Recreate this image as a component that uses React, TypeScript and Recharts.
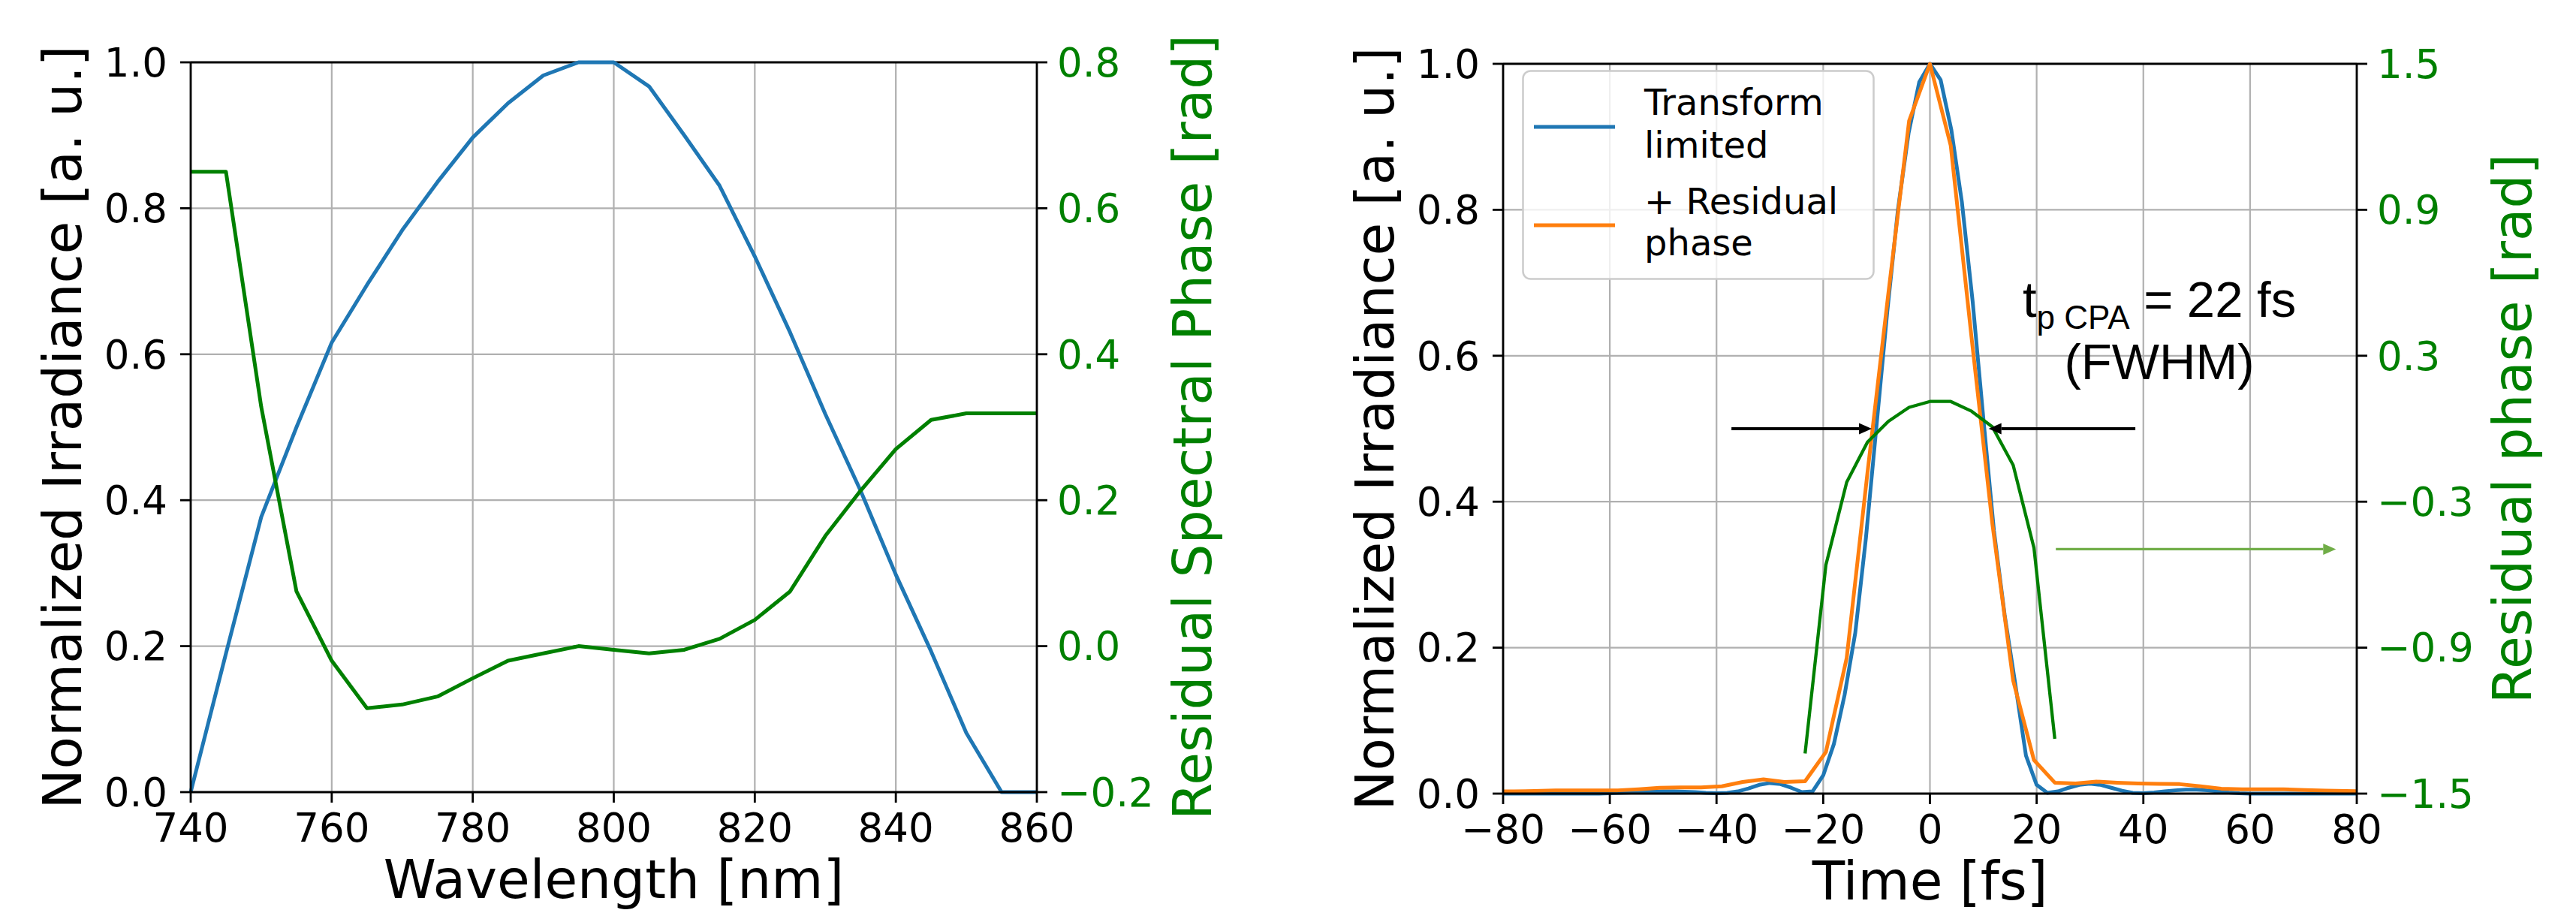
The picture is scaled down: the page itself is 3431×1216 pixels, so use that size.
import React from 'react';
import { LineChart, Line, XAxis, YAxis, CartesianGrid, ReferenceLine, ReferenceDot, Legend } from 'recharts';

// left panel: spectrum and residual spectral phase
const wavelength = [740, 745, 750, 755, 760, 765, 770, 775, 780, 785, 790, 795, 800, 805, 810, 815, 820, 825, 830, 835, 840, 845, 850, 855, 860];
const spectrum = [0, 0.19, 0.377, 0.5, 0.616, 0.695, 0.77, 0.836, 0.897, 0.944, 0.982, 1.0, 1.0, 0.967, 0.9, 0.831, 0.734, 0.63, 0.518, 0.413, 0.298, 0.193, 0.081, 0, 0];
const spectralPhase = [0.65, 0.65, 0.328, 0.075, -0.02, -0.085, -0.08, -0.069, -0.044, -0.02, -0.01, 0.0, -0.005, -0.01, -0.005, 0.01, 0.036, 0.075, 0.151, 0.213, 0.27, 0.31, 0.319, 0.319, 0.319];

// right panel: temporal profiles
const timeFine = [
  -80, -78, -76, -74, -72, -70, -68, -66, -64, -62, -60, -58, -56, -54, -52, -50, -48, -46, -44, -42,
  -40, -38, -36, -34, -32, -30, -28, -26, -24, -22, -20, -18, -16, -14, -12, -10, -8, -6, -4, -2,
  0, 2, 4, 6, 8, 10, 12, 14, 16, 18, 20, 22, 24, 26, 28, 30, 32, 34, 36, 38,
  40, 42, 44, 46, 48, 50, 52, 54, 56, 58, 60, 62, 64, 66, 68, 70, 72, 74, 76, 78, 80,
];
const pulseTL = [
  0, 0, 0, 0, 0, 0, 0, 0, 0, 0, 0.0005, 0.001, 0.0015, 0.002, 0.0025, 0.003, 0.003, 0.0025, 0.002, 0.001,
  0.0005, 0.001, 0.003, 0.007, 0.012, 0.0145, 0.013, 0.008, 0.002, 0.003, 0.025, 0.068, 0.135, 0.22, 0.35, 0.505, 0.66, 0.8, 0.905, 0.975,
  1.0, 0.978, 0.91, 0.81, 0.675, 0.515, 0.36, 0.245, 0.15, 0.052, 0.012, 0.001, 0.003, 0.008, 0.012, 0.0135, 0.012, 0.008, 0.004, 0.001,
  0.0005, 0.0015, 0.003, 0.0045, 0.0055, 0.0055, 0.0045, 0.003, 0.0015, 0.0005, 0, 0, 0, 0, 0, 0, 0, 0, 0, 0, 0,
];
const timeCoarse = [
  -81.9, -78, -74.1, -70.2, -66.3, -62.4, -58.5, -54.6, -50.7, -46.8, -42.9, -39, -35.1, -31.2, -27.3, -23.4, -19.5, -15.6, -11.7, -7.8, -3.9,
  0, 3.9, 7.8, 11.7, 15.6, 19.5, 23.4, 27.3, 31.2, 35.1, 39, 42.9, 46.8, 50.7, 54.6, 58.5, 62.4, 66.3, 70.2, 74.1, 78, 81.9,
];
const pulseCPA = [
  0.003, 0.003, 0.0035, 0.0045, 0.0045, 0.0045, 0.0045, 0.006, 0.008, 0.0085, 0.0085, 0.01, 0.016, 0.0195, 0.016, 0.017, 0.057, 0.186, 0.44, 0.685, 0.922,
  1.0, 0.888, 0.625, 0.37, 0.155, 0.046, 0.015, 0.014, 0.0165, 0.015, 0.014, 0.0135, 0.013, 0.01, 0.0068, 0.006, 0.006, 0.0058, 0.005, 0.0042, 0.0035, 0.003,
];
const timePhase = [-23.4, -19.5, -15.6, -11.7, -7.8, -3.9, 0, 3.9, 7.8, 11.7, 15.6, 19.5, 23.4];
const residualPhase = [-1.335, -0.56, -0.22, -0.055, 0.03, 0.088, 0.112, 0.112, 0.072, 0.008, -0.15, -0.49, -1.275];

const irrTicks = [0, 0.2, 0.4, 0.6, 0.8, 1.0];
const wlTicks = [740, 760, 780, 800, 820, 840, 860];
const specPhaseTicks = [-0.2, 0, 0.2, 0.4, 0.6, 0.8];
const timeTicks = [-80, -60, -40, -20, 0, 20, 40, 60, 80];
const resPhaseTicks = [-1.5, -0.9, -0.3, 0.3, 0.9, 1.5];

const spectrumData = wavelength.map((x, i) => ({ x, irr: spectrum[i], phase: spectralPhase[i] }));
const tlData = timeFine.map((x, i) => ({ x, v: pulseTL[i] }));
const cpaData = timeCoarse.map((x, i) => ({ x, v: pulseCPA[i] }));
const phaseData = timePhase.map((x, i) => ({ x, v: residualPhase[i] }));

const FONT = 'DejaVu Sans';
const BLUE = '#1f77b4';
const ORANGE = '#ff7f0e';
const GREEN = '#008000';
const SPINE = 2.8;
const TICK = 53;
const TITLE = 71;
const LW = 5;

const fmt1 = (v: number) => (v < 0 ? '\u2212' : '') + Math.abs(v).toFixed(1);
const fmt0 = (v: number) => (v < 0 ? '\u2212' : '') + Math.abs(v);

const axisLine = { stroke: '#000', strokeWidth: SPINE };
const tickFont = (fill: string) => ({ fontSize: TICK, fill, fontFamily: FONT });

// x title sits just above the page's bottom edge
const xTitle = (text: string) => (p: any) => {
  const { x, y, width } = p.viewBox;
  return (
    <text x={x + width / 2} y={y + 141} textAnchor="middle" fontFamily={FONT} fontSize={TITLE} fill="#000">
      {text}
    </text>
  );
};

const yTitle = (text: string, color: string, side: 'left' | 'right') => (p: any) => {
  const { x, y, width, height } = p.viewBox;
  const bx = side === 'left' ? x + width - 146 : x + 232;
  const cy = y + height / 2;
  return (
    <text x={bx} y={cy} transform={`rotate(-90, ${bx}, ${cy})`} textAnchor="middle" fontFamily={FONT} fontSize={TITLE} fill={color}>
      {text}
    </text>
  );
};

const arrow = (color: string, w: number) => (p: any) => {
  const { x1, y1, x2, y2 } = p;
  const dir = x2 > x1 ? 1 : -1;
  const hl = 17;
  const hw = 7.5;
  return (
    <g>
      <line x1={x1} y1={y1} x2={x2 - dir * hl} y2={y2} stroke={color} strokeWidth={w} />
      <polygon points={`${x2},${y2} ${x2 - dir * hl},${y2 - hw} ${x2 - dir * hl},${y2 + hw}`} fill={color} />
    </g>
  );
};

const durationLabel = (p: any) => (
  <text x={p.cx} y={p.cy} textAnchor="middle" fontFamily="Liberation Sans" fontSize={67} fill="#000">
    t<tspan fontSize={44} dy={16}>p CPA</tspan>
    <tspan dy={-16}> = 22 fs</tspan>
  </text>
);

const fwhmLabel = (p: any) => (
  <text x={p.cx} y={p.cy} textAnchor="middle" fontFamily="Liberation Sans" fontSize={67} fill="#000">
    (FWHM)
  </text>
);

const PulseLegend = () => (
  <svg width={470} height={280} style={{ display: 'block' }}>
    <rect x={1.5} y={1.5} width={467} height={277} rx={10} fill="rgba(255,255,255,0.8)" stroke="#cccccc" strokeWidth={2.5} />
    <line x1={16} x2={124} y1={76} y2={76} stroke={BLUE} strokeWidth={LW} />
    <line x1={16} x2={124} y1={207} y2={207} stroke={ORANGE} strokeWidth={LW} />
    <g fontFamily={FONT} fontSize={48} fill="#000">
      <text x={163} y={60}>Transform</text>
      <text x={163} y={117}>limited</text>
      <text x={163} y={192}>+ Residual</text>
      <text x={163} y={247}>phase</text>
    </g>
  </svg>
);

const SpectrumChart = () => (
  <LineChart width={1716} height={1216} data={spectrumData} margin={{ top: 83, left: 0, right: 35, bottom: 65 }}>
    <CartesianGrid yAxisId="left" stroke="#b0b0b0" strokeWidth={2.2} />
    <XAxis
      dataKey="x" type="number" domain={[740, 860]} ticks={wlTicks} interval={0} height={96}
      tick={tickFont('#000')} tickSize={14} tickMargin={14} axisLine={axisLine} tickLine={axisLine}
      label={xTitle('Wavelength [nm]')}
    />
    <YAxis
      yAxisId="left" type="number" domain={[0, 1]} ticks={irrTicks} interval={0} width={254}
      tickFormatter={fmt1} tick={tickFont('#000')} tickSize={14} tickMargin={17} axisLine={axisLine} tickLine={axisLine}
      label={yTitle('Normalized Irradiance [a. u.]', '#000', 'left')}
    />
    <YAxis
      yAxisId="right" orientation="right" type="number" domain={[-0.2, 0.8]} ticks={specPhaseTicks} interval={0} width={300}
      tickFormatter={fmt1} tick={tickFont(GREEN)} tickSize={14} tickMargin={13} axisLine={axisLine} tickLine={axisLine}
      label={yTitle('Residual Spectral Phase [rad]', GREEN, 'right')}
    />
    <ReferenceLine yAxisId="left" y={1} stroke="#000" strokeWidth={SPINE} />
    <Line yAxisId="left" type="linear" dataKey="irr" stroke={BLUE} strokeWidth={LW} strokeLinejoin="round" dot={false} activeDot={false} isAnimationActive={false} />
    <Line yAxisId="right" type="linear" dataKey="phase" stroke={GREEN} strokeWidth={LW} strokeLinejoin="round" dot={false} activeDot={false} isAnimationActive={false} />
  </LineChart>
);

const PulseChart = () => (
  <LineChart width={1715} height={1216} margin={{ top: 85, left: 0, right: 42, bottom: 63 }}>
    <CartesianGrid yAxisId="left" stroke="#b0b0b0" strokeWidth={2.2} />
    <XAxis
      dataKey="x" type="number" domain={[-80, 80]} allowDataOverflow ticks={timeTicks} interval={0} height={96}
      tickFormatter={fmt0} tick={tickFont('#000')} tickSize={14} tickMargin={14} axisLine={axisLine} tickLine={axisLine}
      label={xTitle('Time [fs]')}
    />
    <YAxis
      yAxisId="left" type="number" domain={[0, 1]} ticks={irrTicks} interval={0} width={286}
      tickFormatter={fmt1} tick={tickFont('#000')} tickSize={14} tickMargin={17} axisLine={axisLine} tickLine={axisLine}
      label={yTitle('Normalized Irradiance [a. u.]', '#000', 'left')}
    />
    <YAxis
      yAxisId="right" orientation="right" type="number" domain={[-1.5, 1.5]} ticks={resPhaseTicks} interval={0} width={250}
      tickFormatter={fmt1} tick={tickFont(GREEN)} tickSize={14} tickMargin={13} axisLine={axisLine} tickLine={axisLine}
      label={yTitle('Residual phase [rad]', GREEN, 'right')}
    />
    <ReferenceLine yAxisId="left" y={1} stroke="#000" strokeWidth={SPINE} />
    <Line yAxisId="left" data={tlData} type="linear" dataKey="v" name="Transform limited" stroke={BLUE} strokeWidth={LW} strokeLinejoin="round" dot={false} activeDot={false} isAnimationActive={false} />
    <Line yAxisId="left" data={cpaData} type="linear" dataKey="v" name="+ Residual phase" stroke={ORANGE} strokeWidth={LW} strokeLinejoin="round" dot={false} activeDot={false} isAnimationActive={false} />
    <Line yAxisId="right" data={phaseData} type="linear" dataKey="v" stroke={GREEN} strokeWidth={4.3} strokeLinejoin="round" dot={false} activeDot={false} isAnimationActive={false} legendType="none" />
    <ReferenceLine yAxisId="left" segment={[{ x: -37.2, y: 0.5 }, { x: -10.9, y: 0.5 }]} ifOverflow="visible" shape={arrow('#000', 4)} />
    <ReferenceLine yAxisId="left" segment={[{ x: 38.5, y: 0.5 }, { x: 11.0, y: 0.5 }]} ifOverflow="visible" shape={arrow('#000', 4)} />
    <ReferenceLine yAxisId="left" segment={[{ x: 23.6, y: 0.335 }, { x: 76.1, y: 0.335 }]} ifOverflow="visible" shape={arrow('#70ad47', 3.4)} />
    <ReferenceDot yAxisId="left" x={43} y={0.653} r={0} ifOverflow="visible" shape={durationLabel} />
    <ReferenceDot yAxisId="left" x={43} y={0.568} r={0} ifOverflow="visible" shape={fwhmLabel} />
    <Legend
      layout="vertical" align="center" verticalAlign="middle"
      wrapperStyle={{ left: 311, top: 93, width: 470, height: 280 }}
      content={() => <PulseLegend />}
    />
  </LineChart>
);

export default function App() {
  return (
    <div style={{ position: 'absolute', left: 0, top: 0, width: 3431, height: 1216, background: '#fff', overflow: 'hidden' }}>
      <div style={{ position: 'absolute', left: 0, top: 0 }}>
        <SpectrumChart />
      </div>
      <div style={{ position: 'absolute', left: 1716, top: 0 }}>
        <PulseChart />
      </div>
    </div>
  );
}
